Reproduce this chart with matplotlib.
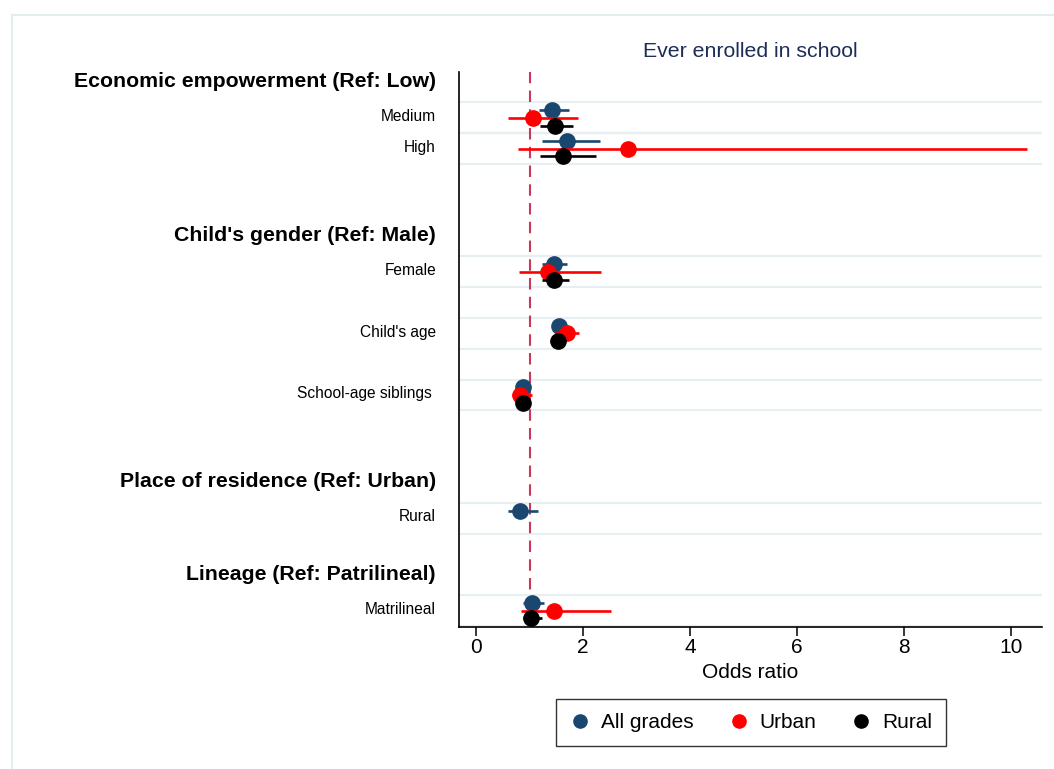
import numpy as np
import matplotlib
matplotlib.use("Agg")
import matplotlib.pyplot as plt
import matplotlib.transforms as mtransforms
from matplotlib.lines import Line2D

plt.rcParams['font.family'] = ['Liberation Sans', 'DejaVu Sans']

nan = np.nan

# Group headers and the row each sits on
headers = ["Economic empowerment (Ref: Low)", "Child's gender (Ref: Male)",
           "Place of residence (Ref: Urban)", "Lineage (Ref: Patrilineal)"]
header_rows = [0, 5, 13, 16]

# Coefficient labels and their rows
terms = ["Medium", "High", "Female", "Child's age", "School-age siblings ",
         "Rural", "Matrilineal"]
term_rows = [1, 2, 6, 8, 10, 14, 17]

# Odds ratios with 95% confidence bounds
all_or = [1.42, 1.70, 1.45, 1.55, 0.87, 0.82, 1.05]
all_lo = [1.17, 1.24, 1.23, 1.47, 0.80, 0.60, 0.88]
all_hi = [1.73, 2.31, 1.70, 1.63, 0.94, 1.16, 1.26]

urban_or = [1.06, 2.84, 1.35, 1.69, 0.82, nan, 1.46]
urban_lo = [0.60, 0.79, 0.80, 1.48, 0.67, nan, 0.84]
urban_hi = [1.90, 10.30, 2.34, 1.92, 1.04, nan, 2.52]

rural_or = [1.47, 1.63, 1.46, 1.53, 0.88, nan, 1.03]
rural_lo = [1.20, 1.19, 1.23, 1.45, 0.80, nan, 0.87]
rural_hi = [1.81, 2.24, 1.73, 1.62, 0.96, nan, 1.23]

x_ticks = [0, 2, 4, 6, 8, 10]

series = [
    ("All grades", all_or, all_lo, all_hi, "#1a476f", -0.25),
    ("Urban", urban_or, urban_lo, urban_hi, "#ff0000", 0.0),
    ("Rural", rural_or, rural_lo, rural_hi, "#000000", 0.25),
]

fig = plt.figure(figsize=(10.54, 7.69), dpi=100)
ax = fig.add_axes([459 / 1054, 1 - 627 / 769, (1042 - 459) / 1054, (627 - 72) / 769])

# light outer frame of the graph region
frame_col = "#e3ecef"
fig.add_artist(Line2D([12 / 1054, 12 / 1054], [0, 1 - 15 / 769], color=frame_col, lw=1.5,
                      transform=fig.transFigure))
fig.add_artist(Line2D([12 / 1054, 1], [1 - 15 / 769, 1 - 15 / 769], color=frame_col, lw=1.5,
                      transform=fig.transFigure))

xmin, xmax = -0.32, 10.58
ax.set_xlim(xmin, xmax)
ax.set_ylim(17.53, -0.49)

# grid lines bounding each coefficient row
for r in term_rows:
    ax.hlines([r - 0.5, r + 0.5], xmin, xmax, color="#e8eff2", lw=1.6, zorder=0)

# reference line at OR = 1
ax.axvline(1, color="#c9375c", lw=1.5, ls=(0, (5.5, 3.5)), zorder=1)

z = 2
for name, est, lo, hi, col, off in series:
    ys = np.array(term_rows, dtype=float) + off
    est = np.array(est)
    lo = np.array(lo)
    hi = np.array(hi)
    ok = ~np.isnan(est)
    ax.hlines(ys[ok], lo[ok], hi[ok], color=col, lw=1.9, zorder=z)
    ax.plot(est[ok], ys[ok], "o", color=col, ms=11, mec=col, zorder=z + 1)
    z += 2

ax.set_yticks(term_rows)
ax.set_yticklabels(terms, fontsize=11.2)
ax.tick_params(axis="y", length=0, pad=16.5)
# put label baselines just under the row centre
shift = mtransforms.ScaledTranslation(0, -2.3 / 72, fig.dpi_scale_trans)
for lab in ax.get_yticklabels():
    lab.set_verticalalignment("baseline")
    lab.set_transform(lab.get_transform() + shift)

for h, r in zip(headers, header_rows):
    ax.text(-23 / 583, r, h, transform=ax.get_yaxis_transform(), ha="right", va="baseline",
            fontsize=15.3, fontweight="bold")

ax.set_xticks(x_ticks)
ax.set_xticklabels([str(t) for t in x_ticks], fontsize=15)
ax.tick_params(axis="x", length=6.5, width=1.1, pad=1.5)
ax.set_xlabel("Odds ratio", fontsize=15, labelpad=4)

for s in ["top", "right"]:
    ax.spines[s].set_visible(False)
for s in ["left", "bottom"]:
    ax.spines[s].set_linewidth(1.2)
    ax.spines[s].set_color("black")

ax.set_title("Ever enrolled in school", fontsize=15.3, color="#1e2d55", pad=10.5)

handles = [Line2D([], [], marker="o", ls="none", color=c, ms=9.5) for _, _, _, _, c, _ in series]
leg = fig.legend(handles, [s[0] for s in series], loc="center",
                 bbox_to_anchor=(751 / 1054, 1 - 722.5 / 769), ncol=3, fontsize=15,
                 frameon=True, fancybox=False, edgecolor="black", handlelength=1.0,
                 handletextpad=0.5, columnspacing=1.65, borderpad=0.67)
leg.get_frame().set_linewidth(1.0)

fig.savefig("out.png", dpi=100)
